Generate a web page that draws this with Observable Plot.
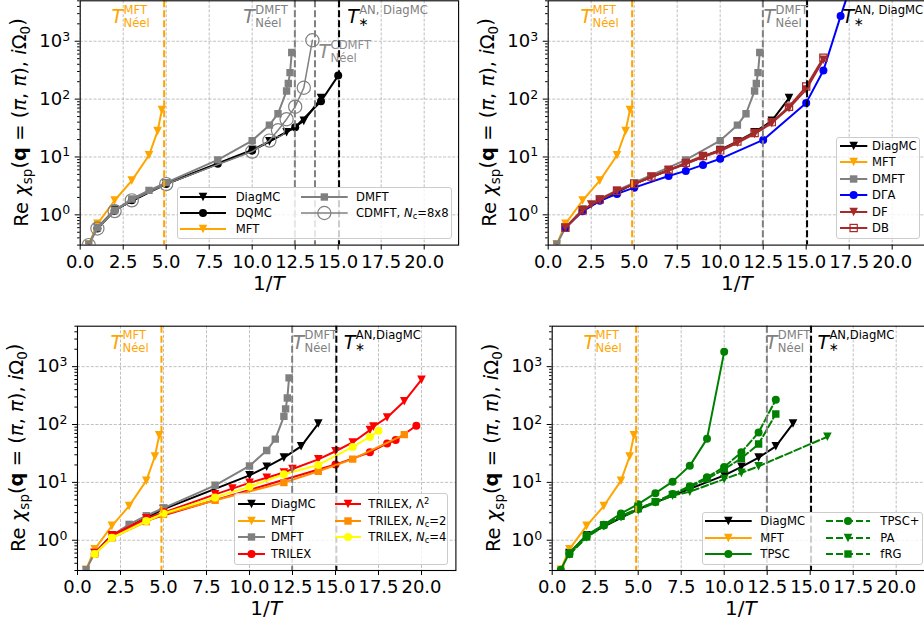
<!DOCTYPE html>
<html><head><meta charset="utf-8">
<script src="https://cdn.jsdelivr.net/npm/d3@7"></script>
<script src="https://cdn.jsdelivr.net/npm/@observablehq/plot@0.6"></script>
<style>
html,body{margin:0;padding:0;background:#fff;overflow:hidden;}
#fig{position:relative;width:924px;height:626px;overflow:hidden;font-family:"DejaVu Sans",sans-serif;background:#fff;}
.panel{position:absolute;}
.legend{position:absolute;background:rgba(255,255,255,0.8);border:1px solid #cccccc;border-radius:3px;box-sizing:border-box;}
.lg-sw{position:absolute;}
.lg-tx{position:absolute;font-size:11.6px;white-space:nowrap;line-height:16px;height:16px;color:#000;}
.lg-tx .sb{font-size:0.72em;vertical-align:-0.25em;line-height:0;}
.lg-tx .sp{font-size:0.72em;vertical-align:0.45em;line-height:0;}
</style></head><body><div id="fig"></div><script>
// ---------- axis ticks ----------
const XTICKS = [0, 2.5, 5, 7.5, 10, 12.5, 15, 17.5, 20];
const YTICKS = [1, 10, 100, 1000];
const YMINOR = [0.3,0.4,0.5,0.6,0.7,0.8,0.9,2,3,4,5,6,7,8,9,20,30,40,50,60,70,80,90,200,300,400,500,600,700,800,900,2000,3000,4000,5000];

// ---------- data (1/T , Re chi_sp) ----------
const diagmcX = [1, 2, 5, 10, 11, 12, 13, 14];
const diagmcY = [0.6, 1.22, 3.45, 13.2, 18.6, 26.8, 42, 104];
const dqmcX = [1, 2, 3, 5, 8, 10, 12.5, 14, 15];
const dqmcY = [0.58, 1.18, 1.78, 3.4, 7.6, 12.8, 32.6, 92, 255];
const mftX = [0.5, 1, 2, 3, 4, 4.5, 4.75];
const mftY = [0.31, 0.7, 1.77, 3.9, 10.7, 28, 65];
const dmftX = [0.5, 1, 2, 3, 4, 5, 8, 10, 11, 11.5, 12, 12.1, 12.2, 12.3];
const dmftY = [0.31, 0.6, 1.2, 1.88, 2.65, 3.6, 8.9, 19.2, 35.5, 56, 138, 186, 287, 640];
const cdmftX = [0.5, 1, 2, 3, 5, 10, 11, 11.5, 12, 12.5, 13, 13.5];
const cdmftY = [0.3, 0.58, 1.16, 1.78, 3.4, 12.4, 19.2, 29, 45, 74, 157, 1040];
const dgaX = [1, 2, 3, 4, 5, 7, 8, 9, 10, 12.5, 15, 16, 17, 18];
const dgaY = [0.6, 1.15, 1.75, 2.3, 2.95, 4.7, 5.75, 7.3, 9.3, 19.7, 86, 313, 2720, 21000];
const dfX = [1, 2, 2.5, 3, 4, 5, 6, 7, 8, 9, 10, 11, 12, 13, 14, 15, 16];
const dfY = [0.6, 1.2, 1.5, 1.8, 2.6, 3.4, 4.5, 5.9, 7.6, 10, 12.6, 17.6, 25, 38.5, 70, 146, 480];
const dbX = [1, 2, 3, 4, 5, 6, 7, 8, 9, 10, 11, 12, 13, 14, 15, 16];
const dbY = [0.6, 1.2, 1.85, 2.6, 3.4, 4.6, 6, 7.9, 10.4, 13, 18.5, 26, 40, 74, 165, 520];
const trilexX = [1, 2, 4, 15, 17, 18, 18.5, 19.7];
const trilexY = [0.58, 1.15, 2.2, 20.3, 33, 47, 54, 95];
const trilexL2X = [1, 2, 4, 5, 8, 9, 10, 11, 12, 12.5, 14, 15, 16, 17, 17.2, 18, 19, 20];
const trilexL2Y = [0.6, 1.22, 2.4, 3.0, 6.2, 7.8, 9.8, 12, 14.8, 17, 25, 34.5, 49, 80, 92, 132, 252, 595];
const trilexNc2X = [1, 2, 4, 5, 8, 12, 14, 16, 19];
const trilexNc2Y = [0.58, 1.1, 2.1, 2.8, 4.9, 9.9, 15.6, 25.2, 67];
const trilexNc4X = [1, 2, 4, 5, 8, 10, 12, 14, 16, 17, 17.5];
const trilexNc4Y = [0.58, 1.1, 2.15, 2.9, 5.5, 8.4, 13.8, 20, 41, 61, 78];
const tpscX = [0.5, 1, 2, 3, 4, 5, 6, 7, 8, 9, 10];
const tpscY = [0.31, 0.6, 1.23, 1.85, 2.9, 4.2, 6.5, 10.3, 19.3, 56.5, 1800];
const tpscPlusX = [1, 2, 3, 4, 5, 6, 7, 8, 9, 10, 11, 12, 13];
const tpscPlusY = [0.58, 1.15, 1.8, 2.6, 3.5, 4.6, 6.3, 8.6, 12.3, 18.5, 33, 73, 268];
const paX = [1, 2, 3, 4, 5, 6, 7, 8, 10, 11, 12, 16];
const paY = [0.57, 1.12, 1.75, 2.5, 3.3, 4.5, 5.9, 6.9, 11.4, 14.6, 19, 61.5];
const frgX = [1, 2, 3, 4, 5, 6, 7, 8, 9, 10, 11, 12, 13];
const frgY = [0.58, 1.15, 1.85, 2.6, 3.5, 4.6, 6.2, 8.2, 11.5, 17, 26, 46, 152];

// transition temperatures (1/T)
const tNeelMFT = 4.88, tNeelDMFT = 12.48, tNeelCDMFT = 13.65, tStarAN = 15.05;

// ---------- styles ----------
const ORANGE = "#ffa500", GRAY = "#808080", GREEN = "#008000", BROWN = "#a52a2a";
const SERIES = {
  DiagMC: {label: "DiagMC", x: diagmcX, y: diagmcY, color: "#000000", sym: "tri"},
  DQMC: {label: "DQMC", x: dqmcX, y: dqmcY, color: "#000000", sym: "circle"},
  MFT: {label: "MFT", x: mftX, y: mftY, color: ORANGE, sym: "tri"},
  DMFT: {label: "DMFT", x: dmftX, y: dmftY, color: GRAY, sym: "square"},
  CDMFT: {label: 'CDMFT, <i>N</i><span class="sb">c</span>=8x8', x: cdmftX, y: cdmftY, color: GRAY, sym: "ocircle", lw: 1.5},
  DGA: {label: "DΓA", x: dgaX, y: dgaY, color: "#0000ff", sym: "circle"},
  DF: {label: "DF", x: dfX, y: dfY, color: BROWN, sym: "tri"},
  DB: {label: "DB", x: dbX, y: dbY, color: BROWN, sym: "osquare"},
  TRILEX: {label: "TRILEX", x: trilexX, y: trilexY, color: "#ff0000", sym: "circle"},
  TRILEXL2: {label: 'TRILEX, Λ<span class="sp">2</span>', x: trilexL2X, y: trilexL2Y, color: "#ff0000", sym: "tri"},
  TRILEXNc2: {label: 'TRILEX, <i>N</i><span class="sb">c</span>=2', x: trilexNc2X, y: trilexNc2Y, color: "#ff8c00", sym: "square"},
  TRILEXNc4: {label: 'TRILEX, <i>N</i><span class="sb">c</span>=4', x: trilexNc4X, y: trilexNc4Y, color: "#ffff00", sym: "circle"},
  TPSC: {label: "TPSC", x: tpscX, y: tpscY, color: GREEN, sym: "circle"},
  TPSCp: {label: "TPSC+", x: tpscPlusX, y: tpscPlusY, color: GREEN, sym: "circle", dash: "7,3"},
  PA: {label: "PA", x: paX, y: paY, color: GREEN, sym: "tri", dash: "7,3"},
  fRG: {label: "fRG", x: frgX, y: frgY, color: GREEN, sym: "square", dash: "7,3"}
};

const symTri = {draw(ctx, size) { const h = Math.sqrt(size / Math.PI); ctx.moveTo(-h, -h); ctx.lineTo(h, -h); ctx.lineTo(0, h); ctx.closePath(); }};
const symSq = {draw(ctx, size) { const h = Math.sqrt(size / Math.PI); ctx.rect(-h, -h, 2 * h, 2 * h); }};
function dotOpts(s) {
  const base = {x: "x", y: "y", clip: true};
  switch (s.sym) {
    case "tri": return {...base, symbol: symTri, r: 4.3, fill: s.color, stroke: "none"};
    case "circle": return {...base, symbol: "circle", r: 4, fill: s.color, stroke: "none"};
    case "square": return {...base, symbol: symSq, r: 3.7, fill: s.color, stroke: "none"};
    case "osquare": return {...base, symbol: symSq, r: 3.6, fill: "none", stroke: s.color, strokeWidth: 1.2};
    case "ocircle": return {...base, symbol: "circle", r: 6.6, fill: "none", stroke: s.color, strokeWidth: 1.2};
  }
}
function swatchMarker(s, cx, cy) {
  const c = s.color;
  switch (s.sym) {
    case "tri": { const h = 4.3; return `<path d="M${cx-h},${cy-h}L${cx+h},${cy-h}L${cx},${cy+h}Z" fill="${c}"/>`; }
    case "circle": return `<circle cx="${cx}" cy="${cy}" r="4" fill="${c}"/>`;
    case "square": return `<rect x="${cx-3.7}" y="${cy-3.7}" width="7.4" height="7.4" fill="${c}"/>`;
    case "osquare": return `<rect x="${cx-3.6}" y="${cy-3.6}" width="7.2" height="7.2" fill="none" stroke="${c}" stroke-width="1.2"/>`;
    case "ocircle": return `<circle cx="${cx}" cy="${cy}" r="6.6" fill="none" stroke="${c}" stroke-width="1.2"/>`;
  }
}

const pts = (xs, ys) => xs.map((x, i) => ({x, y: ys[i]}));
const ANN_Y = 2600;

// ---------- panel definitions ----------
const PANELS = [
  {left: 0, top: 0, w: 462, h: 300, ml: 79.7, mr: 3.9, mt: 0.3, mb: 55.4,
   series: ["DiagMC", "DQMC", "MFT", "DMFT", "CDMFT"],
   vlines: [[tNeelMFT, ORANGE], [tNeelDMFT, GRAY], [tNeelCDMFT, GRAY], [tStarAN, "#000"]],
   ann: [{x: 1.82, y: ANN_Y, sup: "MFT", sub: "Néel", c: ORANGE},
         {x: 9.48, y: ANN_Y, sup: "DMFT", sub: "Néel", c: GRAY},
         {x: 13.86, y: 643, sup: "CDMFT", sub: "Néel", c: "#8c8c8c"},
         {x: 15.52, y: ANN_Y, sup: "AN, DiagMC", sub: "∗", c: "#000", supc: GRAY}],
   legend: {x: 176.7, y: 187.3, w: 275, h: 52, y0: 196.6, step: 16.4,
            cols: [{sx: 180, len: 46, tx: 235.7, items: ["DiagMC", "DQMC", "MFT"]},
                   {sx: 301, len: 46.7, tx: 356, items: ["DMFT", "CDMFT"]}]}},
  {left: 462, top: 0, w: 465, h: 300, ml: 85.7, mr: 0.9, mt: 0.3, mb: 55.4,
   series: ["DiagMC", "MFT", "DMFT", "DGA", "DF", "DB"],
   vlines: [[tNeelMFT, ORANGE], [tNeelDMFT, GRAY], [tStarAN, "#000"]],
   ann: [{x: 1.88, y: ANN_Y, sup: "MFT", sub: "Néel", c: ORANGE},
         {x: 12.52, y: ANN_Y, sup: "DMFT", sub: "Néel", c: GRAY},
         {x: 17.11, y: ANN_Y, sup: "AN, DiagMC", sub: "∗", c: "#000"}],
   legend: {x: 836, y: 136.7, w: 84, h: 102, y0: 145.7, step: 16.5,
            cols: [{sx: 839.7, len: 27.3, tx: 872, items: ["DiagMC", "MFT", "DMFT", "DGA", "DF", "DB"]}]}},
  {left: 0, top: 300, w: 462, h: 326, ml: 77, mr: 6.6, mt: 25.7, mb: 56,
   series: ["DiagMC", "MFT", "DMFT", "TRILEX", "TRILEXL2", "TRILEXNc2", "TRILEXNc4"],
   vlines: [[tNeelMFT, ORANGE], [tNeelDMFT, GRAY], [tStarAN, "#000"]],
   ann: [{x: 1.92, y: ANN_Y, sup: "MFT", sub: "Néel", c: ORANGE},
         {x: 12.5, y: ANN_Y, sup: "DMFT", sub: "Néel", c: GRAY},
         {x: 15.48, y: ANN_Y, sup: "AN,DiagMC", sub: "∗", c: "#000"}],
   legend: {x: 234.3, y: 493.3, w: 214, h: 71.7, y0: 504, step: 16.7,
            cols: [{sx: 238, len: 27, tx: 271, items: ["DiagMC", "MFT", "DMFT", "TRILEX"]},
                   {sx: 335, len: 26, tx: 368.3, items: ["TRILEXL2", "TRILEXNc2", "TRILEXNc4"]}]}},
  {left: 462, top: 300, w: 469, h: 326, ml: 89.7, mr: 0.9, mt: 25.7, mb: 56,
   series: ["DiagMC", "MFT", "TPSC", "TPSCp", "PA", "fRG"],
   vlines: [[tNeelMFT, ORANGE], [tNeelDMFT, GRAY], [tStarAN, "#000"]],
   ann: [{x: 1.82, y: ANN_Y, sup: "MFT", sub: "Néel", c: ORANGE},
         {x: 12.42, y: ANN_Y, sup: "DMFT", sub: "Néel", c: GRAY},
         {x: 15.42, y: ANN_Y, sup: "AN,DiagMC", sub: "∗", c: "#000"}],
   legend: {x: 702, y: 512.3, w: 221, h: 52.7, y0: 521, step: 16.6,
            cols: [{sx: 705.3, len: 46.7, tx: 760.3, items: ["DiagMC", "MFT", "TPSC"]},
                   {sx: 826.3, len: 44, tx: 880.3, items: ["TPSCp", "PA", "fRG"]}]}}
];

const fig = document.getElementById("fig");
const gridStyle = {stroke: "#b0b0b0", strokeOpacity: 1, strokeWidth: 0.8, strokeDasharray: "3,1.6"};

for (const p of PANELS) {
  const marks = [Plot.gridX(XTICKS, gridStyle), Plot.gridY(YTICKS, gridStyle)];
  for (const key of p.series) {
    const s = SERIES[key];
    const data = pts(s.x, s.y);
    marks.push(Plot.line(data, {x: "x", y: "y", stroke: s.color, strokeWidth: s.lw ?? 2, strokeDasharray: s.dash, clip: true}));
    marks.push(Plot.dot(data, dotOpts(s)));
  }
  for (const [vx, vc] of p.vlines) {
    marks.push(Plot.ruleX([vx], {stroke: vc, strokeWidth: 2, strokeDasharray: "7,3"}));
  }
  for (const a of p.ann) {
    const star = a.sub === "∗";
    marks.push(Plot.text([a], {x: "x", y: "y", text: () => "T", fill: a.c, fontSize: 19, fontStyle: "italic", textAnchor: "start", lineAnchor: "middle"}));
    marks.push(Plot.text([a], {x: "x", y: "y", text: "sup", fill: a.supc ?? a.c, fontSize: 11.6, textAnchor: "start", lineAnchor: "middle", dx: 12, dy: -7}));
    marks.push(Plot.text([a], {x: "x", y: "y", text: "sub", fill: a.c, fontSize: star ? 12 : 11.6, textAnchor: "start", lineAnchor: "middle", dx: star ? 11 : 12, dy: star ? 5 : 6}));
  }
  marks.push(
    Plot.axisX(XTICKS, {tickSize: 5, tickPadding: 5, tickFormat: d => d.toFixed(1), label: null, stroke: "#000"}),
    Plot.axisY(YTICKS, {tickSize: 5, tickPadding: 5, tickFormat: d => "10^" + Math.round(Math.log10(d)), label: null}),
    Plot.axisY(YMINOR, {tickSize: 2.6, tickFormat: () => "", label: null}),
    Plot.frame({stroke: "#000", strokeWidth: 1.1})
  );
  const svg = Plot.plot({
    width: p.w, height: p.h,
    marginLeft: p.ml, marginRight: p.mr, marginTop: p.mt, marginBottom: p.mb,
    style: {fontFamily: "DejaVu Sans", fontSize: "18px", color: "#000", background: "transparent", maxWidth: "none", overflow: "visible"},
    x: {domain: [0, 22], label: null},
    y: {type: "log", domain: [0.3, 5000], label: null},
    marks
  });
  // superscript exponents on y tick labels
  d3.select(svg).selectAll("text").each(function () {
    const m = (this.textContent || "").match(/^10\^(-?\d)$/);
    if (m) {
      const sel = d3.select(this);
      sel.text("");
      sel.append("tspan").text("10");
      sel.append("tspan").attr("dy", "-0.5em").attr("font-size", "12.5px").text(m[1]);
    }
  });
  // axis titles
  const fb = p.h - p.mb;
  const yl = d3.select(svg).append("text")
    .attr("transform", `translate(${p.ml - 52},${(p.mt + fb) / 2}) rotate(-90)`)
    .attr("text-anchor", "middle").attr("font-size", "19.5px").attr("fill", "#000");
  yl.append("tspan").text("Re ");
  yl.append("tspan").attr("font-style", "italic").text("χ");
  yl.append("tspan").attr("font-size", "13.5px").attr("dy", "0.3em").text("sp");
  yl.append("tspan").attr("dy", "-0.3em").text("(");
  yl.append("tspan").attr("font-weight", "bold").text("q");
  yl.append("tspan").text(" = (");
  yl.append("tspan").attr("font-style", "italic").text("π");
  yl.append("tspan").text(", ");
  yl.append("tspan").attr("font-style", "italic").text("π");
  yl.append("tspan").text("), ");
  yl.append("tspan").attr("font-style", "italic").text("i");
  yl.append("tspan").text("Ω");
  yl.append("tspan").attr("font-size", "13.5px").attr("dy", "0.3em").text("0");
  yl.append("tspan").attr("dy", "-0.3em").text(")");
  const xl = d3.select(svg).append("text")
    .attr("x", p.ml + (p.w - p.ml - p.mr) / 2).attr("y", fb + 45)
    .attr("text-anchor", "middle").attr("font-size", "20px").attr("fill", "#000");
  xl.append("tspan").text("1/");
  xl.append("tspan").attr("font-style", "italic").text("T");

  const div = document.createElement("div");
  div.className = "panel";
  div.style.left = p.left + "px"; div.style.top = p.top + "px";
  div.style.width = p.w + "px"; div.style.height = p.h + "px";
  div.appendChild(svg);
  fig.appendChild(div);

  // legend
  const L = p.legend;
  const box = document.createElement("div");
  box.className = "legend";
  box.style.left = L.x + "px"; box.style.top = L.y + "px";
  box.style.width = L.w + "px"; box.style.height = L.h + "px";
  fig.appendChild(box);
  for (const col of L.cols) {
    col.items.forEach((key, i) => {
      const s = SERIES[key];
      const cy = L.y0 + i * L.step;
      const sw = document.createElement("div");
      sw.className = "lg-sw";
      sw.style.left = col.sx + "px"; sw.style.top = (cy - 8) + "px";
      const dash = s.dash ? ` stroke-dasharray="${s.dash}"` : "";
      sw.innerHTML = `<svg width="${col.len}" height="16" style="display:block;overflow:visible"><line x1="0" x2="${col.len}" y1="8" y2="8" stroke="${s.color}" stroke-width="${s.lw ?? 2}"${dash}/>${swatchMarker(s, col.len / 2, 8)}</svg>`;
      fig.appendChild(sw);
      const tx = document.createElement("div");
      tx.className = "lg-tx";
      tx.style.left = col.tx + "px"; tx.style.top = (cy - 8) + "px";
      tx.innerHTML = s.label;
      fig.appendChild(tx);
    });
  }
}
</script></body></html>
